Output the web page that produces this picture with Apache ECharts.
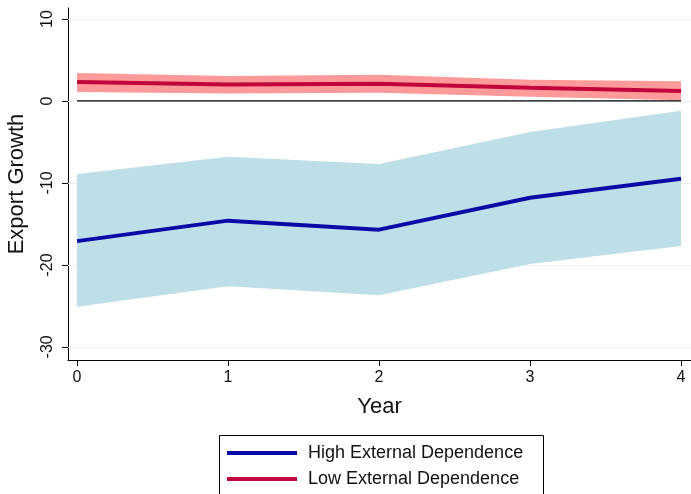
<!DOCTYPE html>
<html><head><meta charset="utf-8">
<script src="https://cdn.jsdelivr.net/npm/echarts@6/dist/echarts.min.js"></script>
<style>html,body{margin:0;padding:0;background:#fff}#c{width:691px;height:494px}</style>
</head><body><div id="c"></div>
<script>
const years = [0, 1, 2, 3, 4];
const highEst = [-17.1, -14.6, -15.7, -11.8, -9.5];
const highUpper = [-8.9, -6.8, -7.7, -3.8, -1.2];
const highLower = [-25.1, -22.6, -23.7, -19.9, -17.7];
const lowEst = [2.3, 2.0, 2.1, 1.6, 1.2];
const lowUpper = [3.4, 3.05, 3.2, 2.6, 2.4];
const lowLower = [1.1, 0.9, 1.0, 0.5, 0.1];
const yTicks = [-30, -20, -10, 0, 10];
const xTicks = [0, 1, 2, 3, 4];
const legendNames = ['High External Dependence', 'Low External Dependence'];
const lineColors = ['#0a0aa6', '#c2053a'];

const pairs = (ys) => years.map((x, i) => [x, ys[i]]);
const font = 'Liberation Sans, Arial, sans-serif';

function bandSeries(upper, lower, color) {
  return {
    type: 'custom', silent: true, z: 3, clip: true,
    data: [[years[0], lower[0], upper[0]]],
    encode: {x: 0, y: [1, 2]},
    renderItem: function (params, api) {
      const pts = [];
      for (let i = 0; i < years.length; i++) pts.push(api.coord([years[i], upper[i]]));
      for (let i = years.length - 1; i >= 0; i--) pts.push(api.coord([years[i], lower[i]]));
      return {type: 'polygon', shape: {points: pts}, style: {fill: color, stroke: null}};
    }
  };
}

const chart = echarts.init(document.getElementById('c'), null, {renderer: 'canvas'});
chart.setOption({
  animation: false,
  backgroundColor: '#fff',
  grid: {left: 68, right: 0, top: 8, bottom: 134, containLabel: false, outerBoundsMode: 'none'},
  xAxis: {
    type: 'value', min: -0.06, max: 4.066,
    name: 'Year', nameLocation: 'middle', nameGap: 36,
    nameTextStyle: {fontFamily: font, fontSize: 22, color: '#111'},
    axisLine: {show: true, onZero: false, lineStyle: {color: '#000', width: 1}},
    axisTick: {show: true, customValues: xTicks, length: 6, inside: false, lineStyle: {color: '#000'}},
    axisLabel: {customValues: xTicks, fontFamily: font, fontSize: 16, color: '#111', margin: 10},
    splitLine: {show: false}
  },
  yAxis: {
    type: 'value', min: -31.6, max: 11.34,
    name: 'Export Growth', nameLocation: 'middle', nameGap: 40, nameRotate: 90,
    nameTextStyle: {fontFamily: font, fontSize: 22, color: '#111'},
    axisLine: {show: true, onZero: false, lineStyle: {color: '#000', width: 1}},
    axisTick: {show: true, customValues: yTicks, length: 6, inside: false, lineStyle: {color: '#000'}},
    axisLabel: {customValues: yTicks, rotate: 90, fontFamily: font, fontSize: 16, color: '#111', margin: 12},
    splitLine: {show: false}
  },
  graphic: [
    {type: 'rect', left: 219, top: 435, z: 10,
     shape: {width: 324, height: 70}, style: {fill: '#fff', stroke: '#000', lineWidth: 1}},
    {type: 'rect', left: 227, top: 451, z: 11, shape: {width: 70, height: 4}, style: {fill: lineColors[0]}},
    {type: 'rect', left: 227, top: 477, z: 11, shape: {width: 70, height: 4}, style: {fill: lineColors[1]}},
    {type: 'text', left: 308, top: 444, z: 11,
     style: {text: legendNames[0], fontFamily: font, fontSize: 18, fill: '#111'}},
    {type: 'text', left: 308, top: 470, z: 11,
     style: {text: legendNames[1], fontFamily: font, fontSize: 18, fill: '#111'}}
  ],
  series: [
    {type: 'line', name: 'grid', data: [], silent: true, z: 1,
     markLine: {silent: true, symbol: 'none', label: {show: false}, animation: false, z: 1,
       lineStyle: {color: '#e8f0f1', width: 1, type: 'solid'},
       data: yTicks.map(v => ({yAxis: v}))}},
    bandSeries(highUpper, highLower, '#bfdfe8'),
    bandSeries(lowUpper, lowLower, '#ff9a9a'),
    {type: 'line', name: 'zero', data: [[0, 0], [4, 0]], symbol: 'none',
     lineStyle: {color: '#000', width: 1.2}, silent: true, z: 4},
    {type: 'line', name: legendNames[0], data: pairs(highEst), symbol: 'none',
     color: lineColors[0], lineStyle: {color: lineColors[0], width: 4}, z: 5},
    {type: 'line', name: legendNames[1], data: pairs(lowEst), symbol: 'none',
     color: lineColors[1], lineStyle: {color: lineColors[1], width: 4}, z: 5}
  ]
});
</script></body></html>
